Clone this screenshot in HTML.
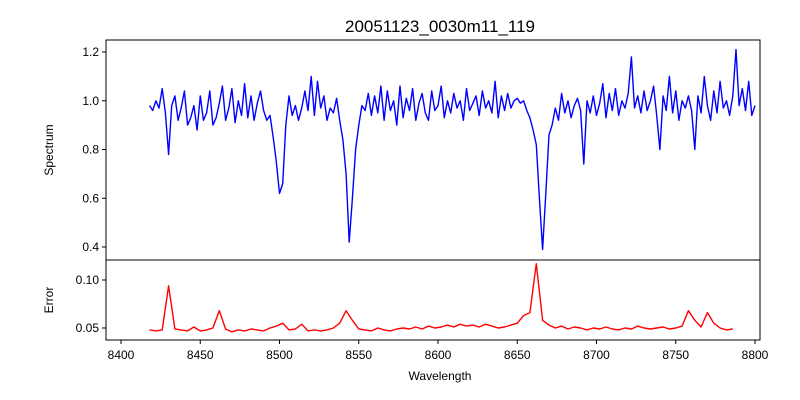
<!DOCTYPE html>
<html><head><meta charset="utf-8"><style>body{margin:0;background:#fff}svg{display:block;font-family:"Liberation Sans","DejaVu Sans",sans-serif}</style></head>
<body>
<svg id="c" width="800" height="400"></svg>
<script>
const title = "20051123_0030m11_119";
const wlStart = 8418, fluxStep = 2, errStart = 8418, errEnd = 8786;
const flux = [0.98,0.96,1.00,0.97,1.05,0.95,0.78,0.98,1.02,0.92,0.97,1.04,0.90,0.93,0.98,0.88,1.02,0.92,0.95,1.04,0.90,0.93,0.99,1.06,0.92,0.97,1.05,0.91,1.00,0.94,1.07,0.93,1.02,0.92,0.99,1.04,0.96,0.92,0.94,0.85,0.75,0.62,0.66,0.90,1.02,0.94,0.98,0.92,0.97,1.04,0.96,1.10,0.94,1.08,0.97,1.02,0.92,0.97,0.95,1.01,0.92,0.84,0.70,0.42,0.60,0.80,0.90,0.98,0.96,1.03,0.94,1.02,0.95,1.06,0.92,1.04,0.96,1.00,0.90,1.06,0.93,1.01,0.96,1.05,0.92,0.99,1.03,0.95,0.92,1.04,0.96,0.98,1.06,0.93,1.00,0.95,1.03,0.97,1.00,0.92,1.05,0.96,0.99,1.02,0.94,1.04,0.97,1.00,0.95,1.08,0.93,1.02,0.96,1.03,0.97,1.00,1.01,0.99,1.00,0.96,0.93,0.88,0.82,0.60,0.39,0.62,0.86,0.90,0.97,0.92,1.03,0.95,1.00,0.93,0.98,1.01,0.96,0.74,1.00,0.95,1.02,0.94,0.99,1.07,0.93,1.03,0.96,1.05,0.94,1.00,0.97,1.03,1.18,0.97,1.02,0.95,1.04,0.96,1.00,1.06,0.94,0.80,1.02,0.96,1.10,0.95,1.04,0.92,1.00,0.97,1.02,0.96,0.80,1.02,0.95,1.10,0.98,0.92,1.04,0.95,1.08,0.97,1.00,0.94,1.02,1.21,0.98,1.05,0.96,1.08,0.94,0.98];
const err = [.048,.047,.048,.094,.049,.048,.047,.051,.047,.048,.050,.068,.049,.046,.048,.047,.049,.048,.047,.050,.052,.055,.048,.049,.054,.047,.048,.047,.048,.050,.055,.068,.058,.049,.048,.047,.050,.048,.047,.049,.050,.049,.051,.049,.052,.050,.051,.053,.051,.054,.052,.053,.051,.054,.052,.050,.051,.053,.055,.063,.066,.117,.058,.053,.050,.052,.049,.051,.050,.048,.050,.049,.051,.049,.048,.050,.049,.052,.050,.049,.050,.051,.049,.050,.052,.068,.058,.051,.066,.055,.050,.048,.049];
const xTicks = [8400,8450,8500,8550,8600,8650,8700,8750,8800];
const yTicksTop = [0.4,0.6,0.8,1.0,1.2];
const yTicksBot = [0.05,0.10];

const L=106,R=760,T1=40,B1=260,T2=260,B2=340;
const xs = v => 121 + (v-8400)*(634/400);
const ysTop = v => 247 - (v-0.4)*243.75;
const ysBot = v => 328 - (v-0.05)*960;
const svg = document.getElementById('c');
const NS='http://www.w3.org/2000/svg';
function mk(tag, attrs, parent){const e=document.createElementNS(NS,tag);for(const k in attrs)e.setAttribute(k,attrs[k]);(parent||svg).appendChild(e);return e;}
function txt(s,attrs){const e=mk('text',attrs);e.textContent=s;return e;}

const t=txt(title,{x:440,y:32,'text-anchor':'middle','font-size':17,fill:'#000'});



const fp = flux.map((v,i)=>xs(wlStart+i*fluxStep).toFixed(1)+','+ysTop(v).toFixed(1)).join(' ');
const fl=mk('polyline',{points:fp,fill:'none',stroke:'#0000ff','stroke-width':1.4,'stroke-linejoin':'round'});


const ep = err.map((v,i)=>xs(errStart+i*(errEnd-errStart)/(err.length-1)).toFixed(1)+','+ysBot(v).toFixed(1)).join(' ');
const el=mk('polyline',{points:ep,fill:'none',stroke:'#ff0000','stroke-width':1.4,'stroke-linejoin':'round'});



const f1=mk('rect',{x:L,y:T1,width:R-L,height:B1-T1,fill:'none',stroke:'#000','stroke-width':1});


const f2=mk('rect',{x:L,y:T2,width:R-L,height:B2-T2,fill:'none',stroke:'#000','stroke-width':1});



xTicks.forEach(v=>{const x=xs(v);
  mk('line',{x1:x,x2:x,y1:B2,y2:B2+4,stroke:'#000'});
  const e=txt(String(v),{x:x,y:B2+19,'text-anchor':'middle','font-size':12});
  
  
});
yTicksTop.forEach(v=>{const y=ysTop(v);
  mk('line',{x1:L-4,x2:L,y1:y,y2:y,stroke:'#000'});
  const e=txt(v.toFixed(1),{x:L-7,y:y+4,'text-anchor':'end','font-size':12});
  
  
});
yTicksBot.forEach(v=>{const y=ysBot(v);
  mk('line',{x1:L-4,x2:L,y1:y,y2:y,stroke:'#000'});
  const e=txt(v.toFixed(2),{x:L-7,y:y+4,'text-anchor':'end','font-size':12});
  
  
});
const xl=txt('Wavelength',{x:440,y:380,'text-anchor':'middle','font-size':12});


const yl1=txt('Spectrum',{x:0,y:0,'text-anchor':'middle','font-size':12,transform:'translate(53,150) rotate(-90)'});


const yl2=txt('Error',{x:0,y:0,'text-anchor':'middle','font-size':12,transform:'translate(53,300) rotate(-90)'});


</script>
</body></html>
